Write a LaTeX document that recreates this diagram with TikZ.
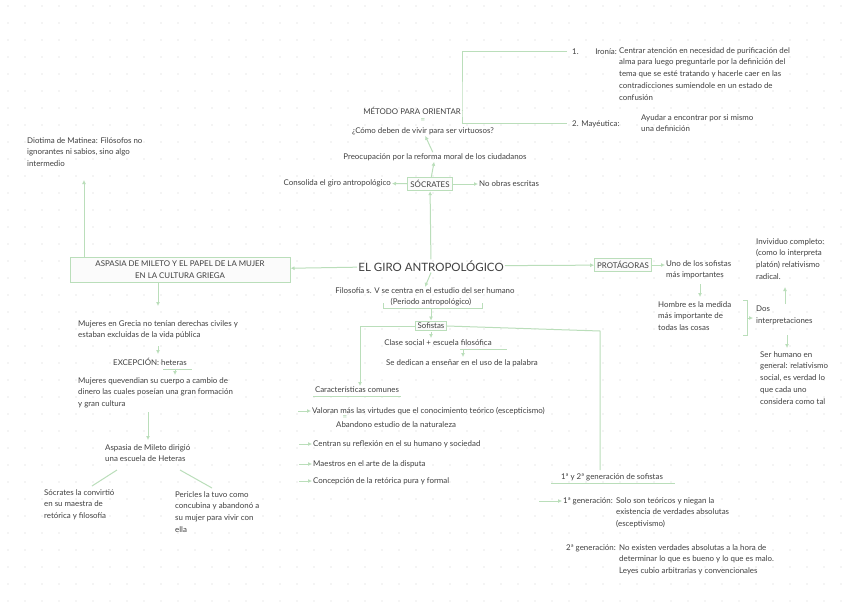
\documentclass[tikz,border=0pt]{standalone}
\usepackage{fontspec}
\setmainfont{Lato}
\begin{document}
\begin{tikzpicture}[x=1pt,y=-1pt,
  every node/.style={text=black!75,font=\fontsize{7.9}{11.8}\selectfont,inner sep=1pt},
  ln/.style={draw=green!35!gray!40,line width=1pt},
  ar/.style={ln,-{Latex[length=4pt,width=4pt]}},
  bx/.style={draw=green!35!gray!40,line width=1pt,fill=gray!3,inner sep=3pt},
  L/.style={anchor=west,align=left},
  R/.style={anchor=east,align=right},
  TL/.style={anchor=north west,align=left}]
\usetikzlibrary{arrows.meta}
\fill[white] (0,0) rectangle (848,599);
\foreach \i in {0,...,49}{\foreach \j in {0,...,35}{\fill[gray!35] (8+\i*17,6+\j*17) circle (0.6);}}
% centre
\node[font=\fontsize{11.5}{13}\selectfont] (t) at (431,266) {EL GIRO ANTROPOLÓGICO};
\node[bx] (soc) at (430,184) {SÓCRATES};
\node[anchor=east] (cons) at (392,183) {Consolida el giro antropológico};
\node[L] (noob) at (478,184) {No obras escritas};
\node (preo) at (435,157) {Preocupación por la reforma moral de los ciudadanos};
\node (como) at (423,131) {¿Cómo deben de vivir para ser virtuosos?};
\node (met) at (412,111) {MÉTODO PARA ORIENTAR};
\node[text=green!35!gray!60] (eq) at (423,121) {=};
\draw[ar] (t) -- (soc);
\draw[ar] (soc) -- (cons);
\draw[ar] (soc) -- (noob);
\draw[ar] (soc) -- (preo);
\draw[ar] (preo) -- (como);
\coordinate (bt) at (567,52); \coordinate (bb) at (567,124);
\draw[ln] (met.east) -- (462,111);
\draw[ln] (bt) -| (462,111) |- (bb);
\node[L] (ir1) at (571,52) {1.};
\node[R] (ir) at (618,52) {Ironía:};
\node[TL] (irt) at (618,46) {Centrar atención en necesidad de purificación del\\alma para luego preguntarle por la definición del\\tema que se esté tratando y hacerle caer en las\\contradicciones sumiendole en un estado de\\confusión};
\node[L] (ma) at (571,124) {2. Mayéutica:};
\node[TL] (mat) at (640,113) {Ayudar a encontrar por si mismo\\una definición};
% left
\node[bx,align=center,minimum width=220pt,minimum height=25pt] (asp) at (180,270) {ASPASIA DE MILETO Y EL PAPEL DE LA MUJER\\EN LA CULTURA GRIEGA};
\draw[ar] (t) -- (asp);
\node[TL] (dio) at (26,136) {Diotima de Matinea: Filósofos no\\ignorantes ni sabios, sino algo\\intermedio};
\draw[ar] (84,257.5) -- (84,180);
\node[TL] (muj) at (77,319) {Mujeres en Grecia no tenían derechas civiles y\\estaban excluidas de la vida pública};
\draw[ar] (158,282.5) -- (158,306);
\node (exc) at (150,362) {EXCEPCIÓN: heteras};
\draw[ar] (158,346) -- (158,354);
\draw[ln] (163,369) -- (192,369);
\node[TL] (quev) at (77,376) {Mujeres quevendian su cuerpo a cambio de\\dinero las cuales poseían una gran formación\\y gran cultura};
\draw[ar] (175,369) -- (175,375);
\node[TL] (aspd) at (104,443) {Aspasia de Mileto dirigió\\una escuela de Heteras};
\draw[ar] (148,412) -- (148,440);
\node[TL] (socr) at (43,488) {Sócrates la convirtió\\en su maestra de\\retórica y filosofía};
\node[TL] (peri) at (174,490) {Pericles la tuvo como\\concubina y abandonó a\\su mujer para vivir con\\ella};
\draw[ln] (117,470) -- (92,486);
\draw[ln] (180,470) -- (212,488);
% right
\node[bx,inner sep=2.5pt] (pro) at (623,265) {PROTÁGORAS};
\draw[ar] (t) -- (pro);
\node[TL] (uno) at (665,259) {Uno de los sofistas\\más importantes};
\draw[ar] (pro) -- (665,265);
\node[TL] (hom) at (657,300) {Hombre es la medida\\más importante de\\todas las cosas};
\draw[ar] (700,284) -- (700,297);
\draw[ln] (743,300) -- (747,300) -- (747,335) -- (743,335);
\draw[ar] (747,318) -- (753,318);
\node[TL] (dos) at (755,305) {Dos\\interpretaciones};
\node[TL] (ind) at (755,237) {Invividuo completo:\\(como lo interpreta\\platón) relativismo\\radical.};
\draw[ar] (785,304) -- (785,287);
\node[TL] (ser) at (759,350) {Ser humano en\\general: relativismo\\social, es verdad lo\\que cada uno\\considera como tal};
\draw[ar] (787,335) -- (787,348);
% centre bottom
\node (fil) at (425,291) {Filosofía s. V se centra en el estudio del ser humano};
\node (per) at (431,302) {(Periodo antropológico)};
\draw[ln,line width=0.7pt] (383,303) -- (383,308) -- (482,308) -- (482,303);
\draw[ar] (t.south) -- (fil.north);
\node[bx,inner sep=2pt] (sof) at (431,326) {Sofistas};
\draw[ar] (431,308) -- (sof.north);
\node (car) at (357,390) {Características comunes};
\draw[ln] (313,396) -- (401,396);
\draw[ar] (sof.west) -| (360,386);
\node (gen) at (612,477) {1ª y 2ª generación de sofistas};
\draw[ln] (551,483) -- (675,483);
\draw[ln] (sof.east) -- (600,331) -- (600,470);
\node (cla) at (438,343) {Clase social + escuela filosófica};
\draw[ar] (431,332) -- (431,338);
\draw[ln] (460,349) -- (507,349);
\node (ded) at (462,363) {Se dedican a enseñar en el uso de la palabra};
\draw[ar] (463,349) -- (463,357);
\node[L] (v1) at (311,411) {Valoran más las virtudes que el conocimiento teórico (escepticismo)};
\draw[ar] (298,411) -- (v1.west);
\node[text=green!35!gray!60] (eq2) at (345,418) {=};
\node[L] (ab) at (335,425) {Abandono estudio de la naturaleza};
\node[L] (v2) at (312,444) {Centran su reflexión en el su humano y sociedad};
\draw[ar] (299,444) -- (v2.west);
\node[L] (v3) at (312,464) {Maestros en el arte de la disputa};
\draw[ar] (299,464) -- (v3.west);
\node[L] (v4) at (312,481) {Concepción de la retórica pura y formal};
\draw[ar] (299,481) -- (v4.west);
\node[R] (g1) at (614,501) {1ª generación:};
\draw[ar] (539,501) -- (g1.west);
\node[TL] (g1t) at (615,496) {Solo son teóricos y niegan la\\existencia de verdades absolutas\\(esceptivismo)};
\node[R] (g2) at (617,548) {2ª generación:};
\node[TL] (g2t) at (618,543) {No existen verdades absolutas a la hora de\\determinar lo que es bueno y lo que es malo.\\Leyes cubio arbitrarias y convencionales};
\end{tikzpicture}
\end{document}
